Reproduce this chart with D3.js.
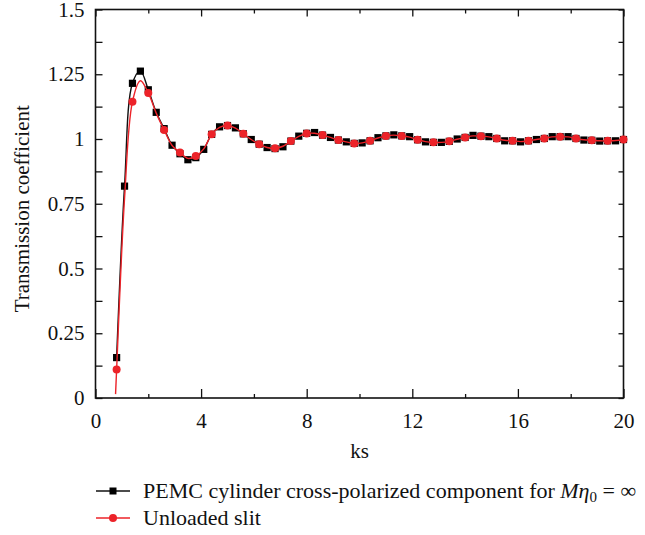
<!DOCTYPE html>
<html>
<head>
<meta charset="utf-8">
<script src="https://cdn.jsdelivr.net/npm/d3@7"></script>
<style>
html,body{margin:0;padding:0;background:#fff;}
svg{display:block;}
text{font-family:"Liberation Serif","Times New Roman",serif;fill:#111;}
</style>
</head>
<body>
<svg id="chart" width="645" height="535"></svg>
<script>
// ---- data ----
const ks = [0.8,1.1,1.4,1.7,2.0,2.3,2.6,2.9,3.2,3.5,3.8,4.1,4.4,4.7,5.0,5.3,5.6,5.9,6.2,6.5,6.8,7.1,7.4,7.7,8.0,8.3,8.6,8.9,9.2,9.5,9.8,10.1,10.4,10.7,11.0,11.3,11.6,11.9,12.2,12.5,12.8,13.1,13.4,13.7,14.0,14.3,14.6,14.9,15.2,15.5,15.8,16.1,16.4,16.7,17.0,17.3,17.6,17.9,18.2,18.5,18.8,19.1,19.4,19.7,20.0];
const pemc = [0.156,0.818,1.215,1.262,1.19,1.103,1.04,0.976,0.943,0.920,0.928,0.960,1.018,1.047,1.052,1.043,1.020,0.998,0.980,0.967,0.963,0.970,0.992,1.011,1.022,1.025,1.015,1.006,0.996,0.989,0.983,0.985,0.993,1.005,1.012,1.016,1.012,1.009,0.997,0.989,0.987,0.987,0.991,1.000,1.006,1.014,1.011,1.009,1.002,0.993,0.993,0.989,0.993,0.998,1.002,1.009,1.009,1.009,1.002,0.996,0.995,0.992,0.993,0.993,0.998];
const unloaded = [0.11,0.77,1.144,1.225,1.178,1.10,1.035,0.975,0.948,0.925,0.934,0.962,1.018,1.045,1.052,1.042,1.020,0.998,0.980,0.967,0.964,0.972,0.992,1.010,1.021,1.022,1.015,1.006,0.996,0.989,0.983,0.985,0.993,1.004,1.012,1.015,1.012,1.007,0.997,0.990,0.987,0.987,0.991,0.999,1.006,1.012,1.011,1.008,1.002,0.995,0.993,0.990,0.993,0.998,1.002,1.008,1.009,1.008,1.002,0.997,0.995,0.993,0.993,0.994,0.998];
const unloadedLead = {ks:0.76, v:0.015}; // red curve start below first marker
const xMajorTicks = [0,4,8,12,16,20];
const xMinorTicks = [2,6,10,14,18];
const yLabelTicks = [0,0.25,0.5,0.75,1,1.25,1.5];
const yLabelText = ["0","0.25","0.5","0.75","1","1.25","1.5"];
const yMinorTicks = [0.125,0.375,0.625,0.875,1.125,1.375];

// ---- layout ----
const svg = d3.select("#chart");
const L = 95.5, R = 623.5, T = 9.5, B = 398;
const x = d3.scaleLinear().domain([0,20]).range([L,R]);
const y = d3.scaleLinear().domain([0,1.5]).range([B,T]);
const red = "#ec2329";
const FS = 21;

function styleAxis(g){ g.select(".domain").remove(); g.selectAll(".tick line").attr("stroke","#111").attr("stroke-width",1.3); }

svg.append("g").attr("transform",`translate(0,${B})`)
  .call(d3.axisBottom(x).tickValues(xMajorTicks).tickSizeInner(-9).tickSizeOuter(0).tickPadding(15).tickFormat(d3.format("d")))
  .call(styleAxis)
  .call(g=>g.selectAll("text").attr("font-size",FS).attr("fill","#111").attr("font-family","Liberation Serif"));
svg.append("g").attr("transform",`translate(0,${B})`)
  .call(d3.axisBottom(x).tickValues(xMinorTicks).tickSizeInner(-4).tickSizeOuter(0).tickFormat(""))
  .call(styleAxis);
svg.append("g").attr("transform",`translate(0,${T})`)
  .call(d3.axisTop(x).tickValues(xMajorTicks).tickSizeInner(-7).tickSizeOuter(0).tickFormat(""))
  .call(styleAxis);
svg.append("g").attr("transform",`translate(0,${T})`)
  .call(d3.axisTop(x).tickValues(xMinorTicks).tickSizeInner(-4).tickSizeOuter(0).tickFormat(""))
  .call(styleAxis);
svg.append("g").attr("transform",`translate(${L},0)`)
  .call(d3.axisLeft(y).tickValues(yLabelTicks).tickSizeInner(-7).tickSizeOuter(0).tickPadding(11)
        .tickFormat((d,i)=>yLabelText[i]))
  .call(styleAxis)
  .call(g=>g.selectAll("text").attr("font-size",FS).attr("fill","#111").attr("font-family","Liberation Serif"));
svg.append("g").attr("transform",`translate(${L},0)`)
  .call(d3.axisLeft(y).tickValues(yMinorTicks).tickSizeInner(-7).tickSizeOuter(0).tickFormat(""))
  .call(styleAxis);
svg.append("g").attr("transform",`translate(${R},0)`)
  .call(d3.axisRight(y).tickValues(yLabelTicks.concat(yMinorTicks)).tickSizeInner(-5).tickSizeOuter(0).tickFormat(""))
  .call(styleAxis);

// frame
svg.append("rect").attr("x",L).attr("y",T).attr("width",R-L).attr("height",B-T)
  .attr("fill","none").attr("stroke","#111").attr("stroke-width",1.6);

// axis titles
svg.append("text").attr("x",(L+R)/2).attr("y",458).attr("text-anchor","middle")
  .attr("font-size",FS).text("ks");
svg.append("text").attr("transform",`translate(29,${(T+B)/2+5}) rotate(-90)`).attr("text-anchor","middle")
  .attr("font-size",FS).text("Transmission coefficient");

// lines
const line = d3.line().x(d=>x(d[0])).y(d=>y(d[1])).curve(d3.curveCatmullRom.alpha(0.5));
const blackData = ks.map((k,i)=>[k,pemc[i]]);
const redData = [[unloadedLead.ks,unloadedLead.v]].concat(ks.map((k,i)=>[k,unloaded[i]]));

svg.append("path").datum(blackData).attr("d",line).attr("fill","none").attr("stroke","#111").attr("stroke-width",1.4);
svg.selectAll("rect.sq").data(blackData).join("rect").attr("class","sq")
  .attr("x",d=>x(d[0])-3.6).attr("y",d=>y(d[1])-3.6).attr("width",7.2).attr("height",7.2).attr("fill","#000");

svg.append("path").datum(redData).attr("d",line).attr("fill","none").attr("stroke",red).attr("stroke-width",1.4);
const redMarkers = ks.map((k,i)=>[k,unloaded[i],i]).filter(d=>d[2]%2===0);
svg.selectAll("circle.rc").data(redMarkers).join("circle").attr("class","rc")
  .attr("cx",d=>x(d[0])).attr("cy",d=>y(d[1])).attr("r",4).attr("fill",red);

// legend
const LFS = 22;
const lg = svg.append("g");
lg.append("line").attr("x1",96).attr("x2",130).attr("y1",491).attr("y2",491).attr("stroke","#111").attr("stroke-width",1.4);
lg.append("rect").attr("x",109.5).attr("y",487.5).attr("width",7).attr("height",7).attr("fill","#000");
const t1 = lg.append("text").attr("x",143).attr("y",497.5).attr("font-size",LFS);
t1.append("tspan").text("PEMC cylinder cross-polarized component for ");
t1.append("tspan").attr("font-style","italic").text("M\u03B7");
t1.append("tspan").attr("font-size",15).attr("dy",4).text("0");
t1.append("tspan").attr("dy",-4).text(" = \u221E");

lg.append("line").attr("x1",96).attr("x2",130).attr("y1",518).attr("y2",518).attr("stroke",red).attr("stroke-width",1.4);
lg.append("circle").attr("cx",113).attr("cy",518).attr("r",4).attr("fill",red);
lg.append("text").attr("x",143).attr("y",524.5).attr("font-size",LFS).text("Unloaded slit");
</script>
</body>
</html>
